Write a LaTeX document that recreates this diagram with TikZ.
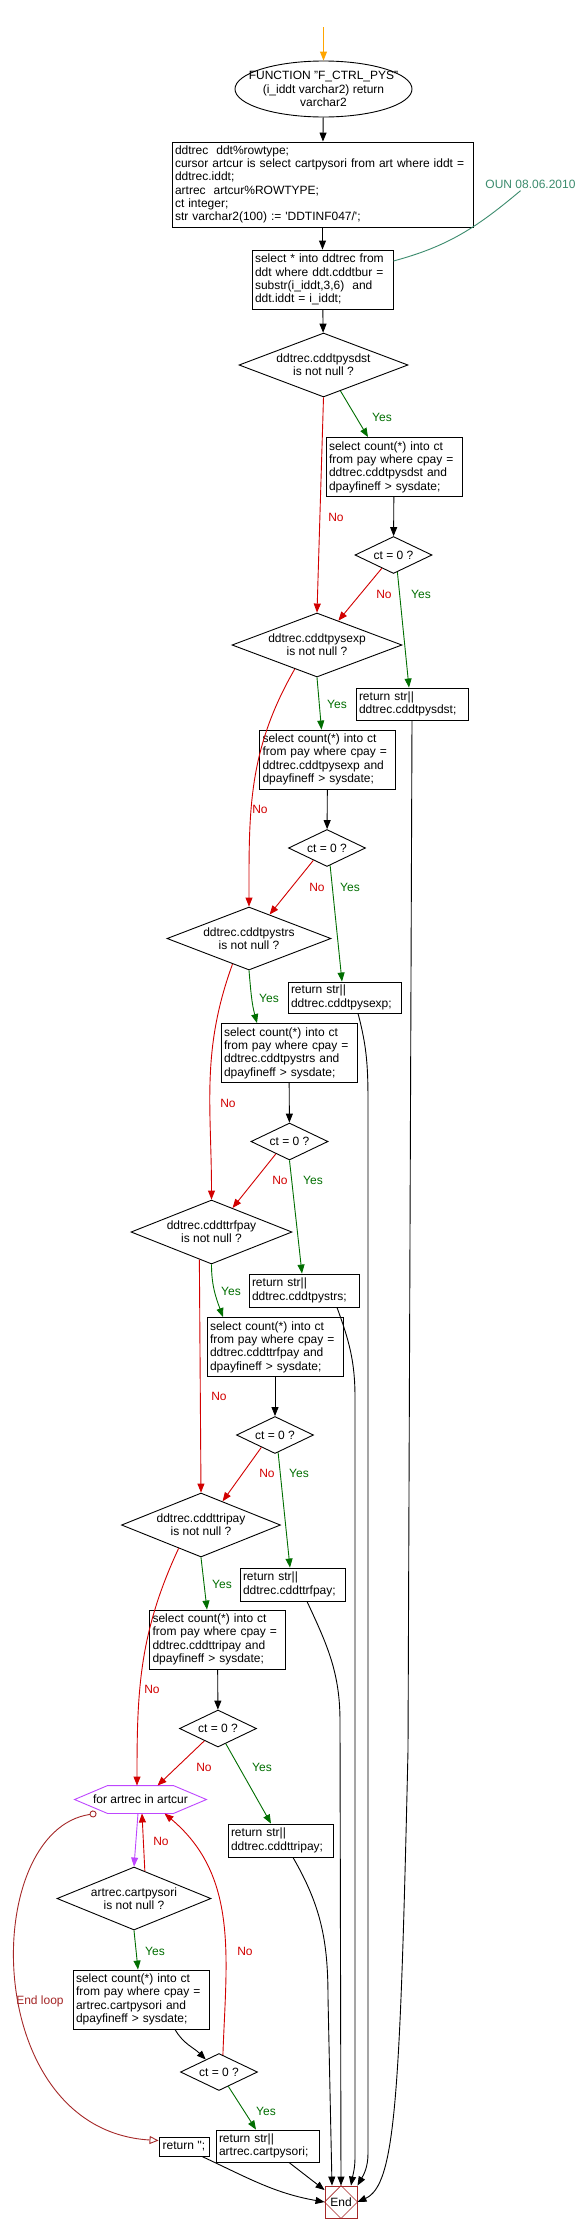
\documentclass[tikz,border=0pt]{standalone}
\usepackage{fontspec}
\setmainfont{Liberation Sans}
\usetikzlibrary{arrows.meta,calc,shapes.geometric}
\definecolor{yescol}{RGB}{0,110,0}
\definecolor{nocol}{RGB}{210,0,0}
\definecolor{loopcol}{RGB}{190,70,255}
\definecolor{endcol}{RGB}{165,40,40}
\definecolor{notecol}{RGB}{60,140,110}
\definecolor{startcol}{RGB}{255,165,0}

\begin{document}
\begin{tikzpicture}
      [x=1pt,y=1pt,line width=.9pt
    % стили блоков
      ,txt/.style={font=\fontsize{12}{13.3}\selectfont}
      ,proc/.style={txt,draw,rectangle,align=left,inner xsep=3pt,inner ysep=0pt}
      ,selbox/.style={proc,text width=130pt,minimum height=59pt}
      ,ifbox/.style={txt,draw,diamond,aspect=2.5,inner sep=0pt,align=center}
      ,testbox/.style={ifbox,minimum width=77pt,minimum height=37pt}
    % стили стрелок и подписей
      ,flow/.style={draw=black,-{Triangle[length=9pt,width=7pt]}}
      ,yesflow/.style={flow,draw=yescol}
      ,noflow/.style={flow,draw=nocol}
      ,loopflow/.style={flow,draw=loopcol}
      ,endloop/.style={draw=endcol,{Circle[open,length=7pt]}-{Triangle[open,length=9pt,width=8pt]}}
      ,ylbl/.style={txt,text=yescol,inner sep=0pt}
      ,nlbl/.style={txt,text=nocol,inner sep=0pt}
      ]
        \useasboundingbox[fill=white] (0,0) rectangle (582,-2233);

    % блоки
        \coordinate (entry) at (323.5,-27);
        \node[txt,ellipse,draw,align=center,inner xsep=-20pt,inner ysep=-2pt,minimum width=177pt,minimum height=56pt] (start) at (323.5,-89)
          {FUNCTION "F\_CTRL\_PYS"\\(i\_iddt varchar2) return\\varchar2};
        \node[proc,text width=295pt,minimum height=85pt] (decl) at (322.5,-184.5)
          {ddtrec\ \ ddt\%rowtype;\\cursor artcur is select cartpysori from art where iddt =\\ddtrec.iddt;\\artrec\ \ artcur\%ROWTYPE;\\ct integer;\\str varchar2(100) := \textquotesingle DDTINF047/\textquotesingle;};
        \node[proc,text width=135pt,minimum height=59pt] (sel) at (322.5,-279.5)
          {select * into ddtrec from\\ddt where ddt.cddtbur =\\substr(i\_iddt,3,6)\ \ and\\ddt.iddt = i\_iddt;};
        \node[txt,text=notecol,inner sep=2pt] (note) at (530.5,-184) {OUN 08.06.2010};

        \node[ifbox,minimum width=169pt,minimum height=64pt] (d1) at (323.5,-365) {ddtrec.cddtpysdst\\is not null ?};
        \node[selbox] (pysdst) at (394,-467) {select count(*) into ct\\from pay where cpay =\\ddtrec.cddtpysdst and\\dpayfineff > sysdate;};
        \node[testbox] (d2) at (393.5,-555) {ct = 0 ?};
        \node[proc,text width=106pt,minimum height=32pt] (ret1) at (412,-704) {return str||\\ddtrec.cddtpysdst;};

        \node[ifbox,minimum width=170pt,minimum height=64pt] (d3) at (317,-645) {ddtrec.cddtpysexp\\is not null ?};
        \node[selbox] (pysexp) at (327.5,-759.5) {select count(*) into ct\\from pay where cpay =\\ddtrec.cddtpysexp and\\dpayfineff > sysdate;};
        \node[testbox] (d4) at (327,-848) {ct = 0 ?};
        \node[proc,text width=107pt,minimum height=31pt] (ret2) at (344.5,-997.5) {return str||\\ddtrec.cddtpysexp;};

        \node[ifbox,minimum width=164pt,minimum height=63pt] (d5) at (249,-938.5) {ddtrec.cddtpystrs\\is not null ?};
        \node[selbox] (pystrs) at (289,-1053) {select count(*) into ct\\from pay where cpay =\\ddtrec.cddtpystrs and\\dpayfineff > sysdate;};
        \node[testbox] (d6) at (289.5,-1141.5) {ct = 0 ?};
        \node[proc,text width=104pt,minimum height=33pt] (ret3) at (304,-1290.5) {return str||\\ddtrec.cddtpystrs;};

        \node[ifbox,minimum width=161pt,minimum height=64pt] (d7) at (211.5,-1232) {ddtrec.cddttrfpay\\is not null ?};
        \node[selbox] (trfpay) at (275,-1347) {select count(*) into ct\\from pay where cpay =\\ddtrec.cddttrfpay and\\dpayfineff > sysdate;};
        \node[testbox] (d8) at (275,-1435) {ct = 0 ?};
        \node[proc,text width=99pt,minimum height=33pt] (ret4) at (292.5,-1584.5) {return str||\\ddtrec.cddttrfpay;};

        \node[ifbox,minimum width=159pt,minimum height=64pt] (d9) at (201,-1525) {ddtrec.cddttripay\\is not null ?};
        \node[selbox] (tripay) at (217.5,-1639.5) {select count(*) into ct\\from pay where cpay =\\ddtrec.cddttripay and\\dpayfineff > sysdate;};
        \node[testbox] (d10) at (218,-1728.5) {ct = 0 ?};
        \node[proc,text width=99pt,minimum height=33pt] (ret5) at (280.5,-1840.5) {return str||\\ddtrec.cddttripay;};

    % цикл по курсору
        \node[txt,inner sep=0pt,minimum width=131pt,minimum height=27pt] (loop) at (140.5,-1799.5) {for artrec in artcur};
        \draw[loopcol] (loop.west) -- ([xshift=33pt]loop.north west) -- ([xshift=-33pt]loop.north east)
          -- (loop.east) -- ([xshift=-33pt]loop.south east) -- ([xshift=33pt]loop.south west) -- cycle;
        \node[ifbox,minimum width=154pt,minimum height=63pt] (d11) at (134,-1898.5) {artrec.cartpysori\\is not null ?};
        \node[selbox] (cart) at (141,-1999.5) {select count(*) into ct\\from pay where cpay =\\artrec.cartpysori and\\dpayfineff > sysdate;};
        \node[testbox] (d12) at (219,-2072) {ct = 0 ?};
        \node[proc,text width=97pt,minimum height=32pt] (ret6) at (267.5,-2146) {return str||\\artrec.cartpysori;};
        \node[proc,align=center,minimum width=50pt,minimum height=19pt] (retnil) at (184,-2146.5) {return \textquotesingle\textquotesingle;};

        \node[txt,draw=endcol,inner sep=0pt,minimum size=32pt] (end) at (341,-2202) {End};
        \draw[endcol,line width=.6pt] (end.north) -- (end.east) -- (end.south) -- (end.west) -- cycle;

    % основная цепочка
        \draw[flow,draw=startcol] (entry) -- (start);
        \draw[flow] (start) -- (decl);
        \draw[flow] (decl) -- (sel);
        \draw[flow] (sel) -- (d1);
        \draw[flow] (pysdst) -- (d2);
        \draw[flow] (pysexp) -- (d4);
        \draw[flow] (pystrs) -- (d6);
        \draw[flow] (trfpay) -- (d8);
        \draw[flow] (tripay) -- (d10);
        \draw[flow] ([xshift=34pt]cart.south) to[out=-60,in=135] ($(d12.north)!0.34!(d12.west)$);
        \draw[notecol] ([yshift=18.5pt]sel.east) to[out=15,in=-140] ([xshift=-10pt]note.south);

    % ветви Yes
        \draw[yesflow] ($(d1.south)!0.2!(d1.east)$) -- ([xshift=-26pt]pysdst.north);
        \draw[yesflow] ($(d2.south)!0.1!(d2.east)$) -- ([xshift=-3pt]ret1.north);
        \draw[yesflow] (d3.south) -- ([xshift=-6pt]pysexp.north);
        \draw[yesflow] ($(d4.south)!0.08!(d4.east)$) -- ([xshift=-2.5pt]ret2.north);
        \draw[yesflow] (d5.south) to[out=-85,in=105] ([xshift=-32pt]pystrs.north);
        \draw[yesflow] (d6.south) -- ([xshift=-2pt]ret3.north);
        \draw[yesflow] (d7.south) to[out=-90,in=110] ([xshift=-52pt]trfpay.north);
        \draw[yesflow] ($(d8.south)!0.08!(d8.east)$) -- ([xshift=-2.5pt]ret4.north);
        \draw[yesflow] (d9.south) -- ([xshift=-10.5pt]tripay.north);
        \draw[yesflow] ($(d10.south)!0.2!(d10.east)$) -- ([xshift=-9.5pt]ret5.north);
        \draw[yesflow] (d11.south) -- ([xshift=-3pt]cart.north);
        \draw[yesflow] ($(d12.south)!0.24!(d12.east)$) -- ([xshift=-11.5pt]ret6.north);

    % ветви No
        \draw[noflow] (d1.south) -- (d3.north);
        \draw[noflow] ($(d2.south)!0.3!(d2.west)$) -- ($(d3.north)!0.25!(d3.east)$);
        \draw[noflow] ($(d3.south)!0.26!(d3.west)$) to[out=-120,in=90] (d5.north);
        \draw[noflow] ($(d4.south)!0.35!(d4.west)$) -- ($(d5.north)!0.25!(d5.east)$);
        \draw[noflow] ($(d5.south)!0.2!(d5.west)$) to[out=-110,in=90] (d7.north);
        \draw[noflow] ($(d6.south)!0.35!(d6.west)$) -- ($(d7.north)!0.26!(d7.east)$);
        \draw[noflow] ($(d7.south)!0.15!(d7.west)$) -- (d9.north);
        \draw[noflow] ($(d8.south)!0.35!(d8.west)$) -- ($(d9.north)!0.27!(d9.east)$);
        \draw[noflow] ($(d9.south)!0.28!(d9.west)$) to[out=-115,in=90] ([xshift=-3.5pt]loop.north);
        \draw[noflow] ($(d10.south)!0.35!(d10.west)$) -- ([xshift=17pt]loop.north);
        \draw[noflow] ($(d11.north)!0.14!(d11.east)$) -- ([xshift=1.5pt]loop.south);
        \draw[noflow] ($(d12.north)!0.1!(d12.east)$) to[out=88,in=-40] ([xshift=24pt]loop.south);
        \draw[loopflow] ([xshift=-2.5pt]loop.south) -- (d11.north);
        \draw[endloop] ([xshift=-44pt]loop.south) .. controls +(-117,-17) and +(-179,10.5) .. ([yshift=6pt]retnil.west);

    % выходы в End
        \draw[flow] (ret1.south) -- ++(-4,-1030) .. controls +(-8,-350) and +(38,17) .. (end.east);
        \draw[flow] ([xshift=13.5pt]ret2.south) to[out=-75,in=90] ++(10,-90) -- ++(0,-1050) to[out=-90,in=60] (end.north east);
        \draw[flow] ([xshift=33pt]ret3.south) to[out=-70,in=90] ++(18,-90) -- ++(0,-760) to[out=-90,in=80] ([xshift=10pt]end.north);
        \draw[flow] ([xshift=14.5pt]ret4.south) to[out=-65,in=90] ++(33,-120) -- (end.north);
        \draw[flow] ([xshift=12.5pt]ret5.south) to[out=-60,in=90] ++(35,-140) -- ([xshift=-9pt]end.north);
        \draw[flow] ([xshift=21.5pt]ret6.south) -- ([yshift=12pt]end.west);
        \draw[flow] ([xshift=18pt]retnil.south) to[out=-25,in=170] (end.west);

    % подписи
        \node[ylbl] (y1) at (382,-417) {Yes};
        \node[ylbl] (y2) at (421,-594) {Yes};
        \node[ylbl] (y3) at (337,-704) {Yes};
        \node[ylbl] (y4) at (350,-887) {Yes};
        \node[ylbl] (y5) at (269,-998) {Yes};
        \node[ylbl] (y6) at (313,-1180) {Yes};
        \node[ylbl] (y7) at (231,-1291) {Yes};
        \node[ylbl] (y8) at (299,-1473) {Yes};
        \node[ylbl] (y9) at (222,-1584) {Yes};
        \node[ylbl] (y10) at (262,-1767) {Yes};
        \node[ylbl] (y11) at (155,-1951) {Yes};
        \node[ylbl] (y12) at (266,-2111) {Yes};
        \node[nlbl] (n1) at (336,-517) {No};
        \node[nlbl] (n2) at (384,-594) {No};
        \node[nlbl] (n3) at (260,-809) {No};
        \node[nlbl] (n4) at (317,-887) {No};
        \node[nlbl] (n5) at (228,-1103) {No};
        \node[nlbl] (n6) at (280,-1180) {No};
        \node[nlbl] (n7) at (219,-1396) {No};
        \node[nlbl] (n8) at (267,-1473) {No};
        \node[nlbl] (n9) at (152,-1689) {No};
        \node[nlbl] (n10) at (204,-1767) {No};
        \node[nlbl] (n11) at (161,-1841) {No};
        \node[nlbl] (n12) at (245,-1951) {No};
        \node[txt,text=endcol,inner sep=0pt] (endlbl) at (40,-2001) {End loop};
\end{tikzpicture}
\end{document}
